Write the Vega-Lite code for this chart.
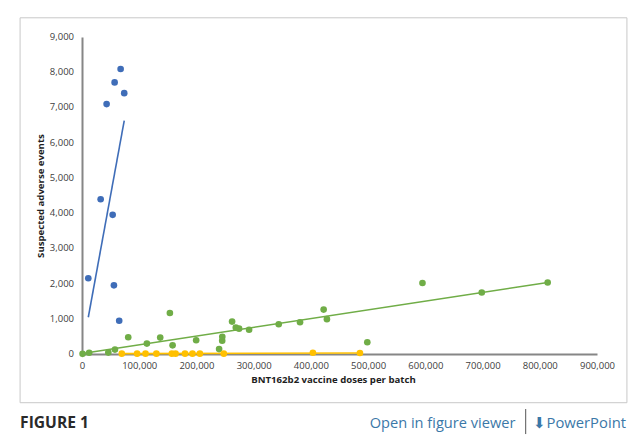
{
  "$schema": "https://vega.github.io/schema/vega-lite/v6.json",
  "width": 515,
  "height": 317,
  "autosize": {"type": "none"},
  "padding": {"left": 82, "top": 37, "right": 44, "bottom": 89},
  "background": "white",
  "config": {
    "view": {"stroke": null},
    "font": "Open Sans",
    "axis": {
      "grid": false,
      "ticks": false,
      "domainColor": "#868686",
      "domainWidth": 2,
      "labelFont": "Open Sans",
      "labelFontSize": 9.5,
      "labelColor": "#404040",
      "labelFlush": false,
      "titleFont": "Open Sans",
      "titleFontSize": 9.6,
      "titleFontWeight": "bold",
      "titleColor": "#1e1e1e"
    }
  },
  "datasets": {
    "points": [
      {"series": "blue", "doses": 67500, "events": 8090},
      {"series": "blue", "doses": 57000, "events": 7710},
      {"series": "blue", "doses": 73800, "events": 7405},
      {"series": "blue", "doses": 43000, "events": 7095},
      {"series": "blue", "doses": 32600, "events": 4395},
      {"series": "blue", "doses": 53600, "events": 3950},
      {"series": "blue", "doses": 11000, "events": 2150},
      {"series": "blue", "doses": 55800, "events": 1950},
      {"series": "blue", "doses": 65000, "events": 945},
      {"series": "green", "doses": 1000, "events": 5},
      {"series": "green", "doses": 12500, "events": 35},
      {"series": "green", "doses": 46000, "events": 40},
      {"series": "green", "doses": 57600, "events": 125},
      {"series": "green", "doses": 80800, "events": 475},
      {"series": "green", "doses": 113400, "events": 295},
      {"series": "green", "doses": 136700, "events": 465},
      {"series": "green", "doses": 153600, "events": 1165},
      {"series": "green", "doses": 158300, "events": 245},
      {"series": "green", "doses": 199500, "events": 390},
      {"series": "green", "doses": 239600, "events": 140},
      {"series": "green", "doses": 245000, "events": 375},
      {"series": "green", "doses": 245200, "events": 490},
      {"series": "green", "doses": 262300, "events": 920},
      {"series": "green", "doses": 268800, "events": 750},
      {"series": "green", "doses": 274500, "events": 720},
      {"series": "green", "doses": 292000, "events": 690},
      {"series": "green", "doses": 343800, "events": 845},
      {"series": "green", "doses": 381000, "events": 900},
      {"series": "green", "doses": 422300, "events": 1260},
      {"series": "green", "doses": 428000, "events": 990},
      {"series": "green", "doses": 498600, "events": 335},
      {"series": "green", "doses": 595000, "events": 2015},
      {"series": "green", "doses": 698600, "events": 1745},
      {"series": "green", "doses": 813800, "events": 2030},
      {"series": "yellow", "doses": 69500, "events": 10},
      {"series": "yellow", "doses": 96300, "events": 10},
      {"series": "yellow", "doses": 111000, "events": 10},
      {"series": "yellow", "doses": 130000, "events": 10},
      {"series": "yellow", "doses": 157000, "events": 10},
      {"series": "yellow", "doses": 163500, "events": 10},
      {"series": "yellow", "doses": 180000, "events": 10},
      {"series": "yellow", "doses": 193000, "events": 10},
      {"series": "yellow", "doses": 206000, "events": 10},
      {"series": "yellow", "doses": 247800, "events": 10},
      {"series": "yellow", "doses": 403500, "events": 35},
      {"series": "yellow", "doses": 485700, "events": 30}
    ],
    "trend": [
      {"series": "blue", "doses": 11000, "events": 1043},
      {"series": "blue", "doses": 73800, "events": 6628},
      {"series": "green", "doses": 500, "events": 15},
      {"series": "green", "doses": 813800, "events": 2030},
      {"series": "yellow", "doses": 69500, "events": 12},
      {"series": "yellow", "doses": 485700, "events": 30}
    ],
    "yticks": [
      {"events": 0}, {"events": 1000}, {"events": 2000}, {"events": 3000}, {"events": 4000},
      {"events": 5000}, {"events": 6000}, {"events": 7000}, {"events": 8000}, {"events": 9000}
    ],
    "one": [{}]
  },
  "layer": [
    {
      "data": {"name": "trend"},
      "mark": {"type": "line", "clip": false},
      "encoding": {
        "x": {
          "field": "doses",
          "type": "quantitative",
          "title": "BNT162b2 vaccine doses per batch",
          "scale": {"domain": [0, 900000], "nice": false, "zero": false},
          "axis": {
            "values": [0, 100000, 200000, 300000, 400000, 500000, 600000, 700000, 800000, 900000],
            "format": ",d",
            "labelPadding": 6,
            "titlePadding": 5,
            "titleX": 251,
            "labelOverlap": false
          }
        },
        "y": {
          "field": "events",
          "type": "quantitative",
          "title": "Suspected adverse events",
          "scale": {"domain": [0, 9000], "nice": false, "zero": false},
          "axis": {
            "labels": false,
            "titlePadding": 37
          }
        },
        "color": {
          "field": "series",
          "type": "nominal",
          "scale": {"domain": ["blue", "green", "yellow"], "range": ["#3f6db8", "#70ad47", "#ffc000"]},
          "legend": null
        },
        "strokeWidth": {
          "field": "series",
          "type": "nominal",
          "scale": {"domain": ["blue", "green", "yellow"], "range": [1.6, 1.6, 2.6]},
          "legend": null
        }
      }
    },
    {
      "data": {"name": "points"},
      "mark": {"type": "circle", "size": 44, "opacity": 1},
      "encoding": {
        "x": {"field": "doses", "type": "quantitative"},
        "y": {"field": "events", "type": "quantitative"},
        "color": {
          "field": "series",
          "type": "nominal",
          "scale": {"domain": ["blue", "green", "yellow"], "range": ["#4472c4", "#70ad47", "#ffc000"]},
          "legend": null
        }
      }
    },
    {
      "data": {"name": "yticks"},
      "mark": {"type": "text", "align": "right", "baseline": "middle", "dx": -8, "font": "Open Sans", "fontSize": 9.5, "color": "#404040", "clip": false},
      "encoding": {
        "x": {"datum": 0, "type": "quantitative"},
        "y": {"field": "events", "type": "quantitative"},
        "text": {"field": "events", "type": "quantitative", "format": ",d"}
      }
    },
    {
      "data": {"name": "one"},
      "mark": {"type": "rect", "fill": "transparent", "stroke": "#c8c8c8", "strokeWidth": 1, "clip": false},
      "encoding": {
        "x": {"datum": -108202, "type": "quantitative"},
        "x2": {"datum": 952300},
        "y": {"datum": 9545, "type": "quantitative"},
        "y2": {"datum": -1383}
      }
    },
    {
      "data": {"name": "one"},
      "mark": {"type": "text", "text": "FIGURE 1", "align": "left", "baseline": "alphabetic", "font": "Open Sans", "fontSize": 15.6, "fontWeight": "bold", "color": "#2a2a2a", "clip": false},
      "encoding": {
        "x": {"datum": -108202, "type": "quantitative"},
        "y": {"datum": -2110, "type": "quantitative"}
      }
    },
    {
      "data": {"name": "one"},
      "mark": {"type": "text", "text": "Open in figure viewer", "align": "right", "baseline": "alphabetic", "font": "Open Sans", "fontSize": 14.6, "color": "#3b78a8", "clip": false},
      "encoding": {
        "x": {"datum": 757400, "type": "quantitative"},
        "y": {"datum": -2088, "type": "quantitative"}
      }
    },
    {
      "data": {"name": "one"},
      "mark": {"type": "rule", "color": "#555555", "strokeWidth": 1, "clip": false},
      "encoding": {
        "x": {"datum": 775400, "type": "quantitative"},
        "y": {"datum": -1562, "type": "quantitative"},
        "y2": {"datum": -2273}
      }
    },
    {
      "data": {"name": "one"},
      "mark": {"type": "text", "text": "⬇PowerPoint", "align": "left", "baseline": "alphabetic", "font": "Open Sans", "fontSize": 14.8, "color": "#3b78a8", "clip": false},
      "encoding": {
        "x": {"datum": 789000, "type": "quantitative"},
        "y": {"datum": -2088, "type": "quantitative"}
      }
    }
  ]
}
